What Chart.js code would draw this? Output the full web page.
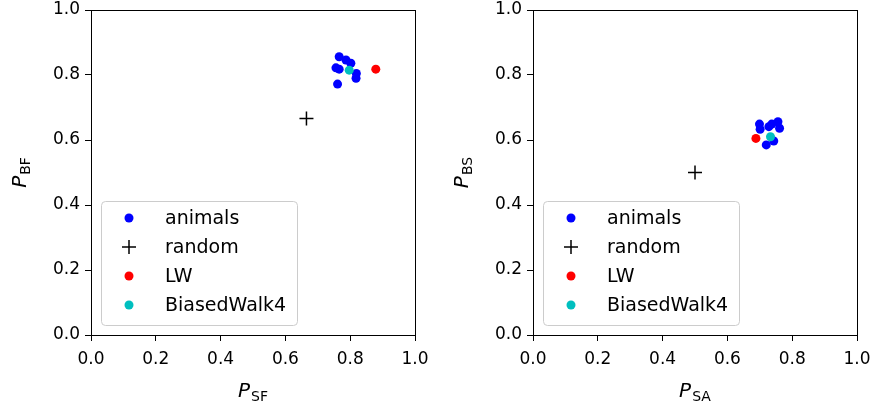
<!DOCTYPE html>
<html>
<head>
<meta charset="utf-8">
<script src="https://cdn.jsdelivr.net/npm/chart.js@4.4.1/dist/chart.umd.min.js"></script>
<style>
  body { margin: 0; background: #fff; }
  .panel { position: absolute; top: 0; width: 437px; height: 410px; }
</style>
</head>
<body>
<div class="panel" style="left:0"><canvas id="chartLeft"></canvas></div>
<div class="panel" style="left:437px"><canvas id="chartRight"></canvas></div>
<script>
// tick values shared by both panels
const tickValues = [0, 0.2, 0.4, 0.6, 0.8, 1.0];
const seriesNames = ["animals", "random", "LW", "BiasedWalk4"];

// left panel: P_SF vs P_BF
const sfAnimals = [0.766, 0.787, 0.802, 0.756, 0.766, 0.819, 0.818, 0.761];
const bfAnimals = [0.856, 0.846, 0.836, 0.822, 0.818, 0.805, 0.790, 0.772];
const sfRandom = [0.665], bfRandom = [0.666];
const sfLW = [0.879], bfLW = [0.818];
const sfBiased = [0.797], bfBiased = [0.815];

// right panel: P_SA vs P_BS
const saAnimals = [0.699, 0.701, 0.728, 0.737, 0.756, 0.761, 0.743, 0.720];
const bsAnimals = [0.649, 0.633, 0.641, 0.649, 0.656, 0.636, 0.597, 0.585];
const saRandom = [0.5], bsRandom = [0.5];
const saLW = [0.688], bsLW = [0.605];
const saBiased = [0.733], bsBiased = [0.610];

const FONT = "'DejaVu Sans', sans-serif";

function pts(xs, ys) {
  return xs.map((x, i) => ({ x: x, y: ys[i] }));
}

function makeDatasets(a, r, lw, b) {
  return [
    { label: seriesNames[0], data: a, backgroundColor: "#0000ff", pointRadius: 4.5, pointBorderWidth: 0, order: 4 },
    { label: seriesNames[1], data: r, pointStyle: "cross", borderColor: "#000", backgroundColor: "#000",
      pointRadius: 7, pointBorderWidth: 1.5, order: 3 },
    { label: seriesNames[2], data: lw, backgroundColor: "#ff0000", pointRadius: 4.5, pointBorderWidth: 0, order: 2 },
    { label: seriesNames[3], data: b, backgroundColor: "#00bfbf", pointRadius: 4.5, pointBorderWidth: 0, order: 1 }
  ];
}

// frame, axis titles with subscripts, and the in-axes legend
const decorPlugin = {
  id: "decor",
  afterDraw(chart) {
    const ctx = chart.ctx;
    const a = chart.chartArea;
    const o = chart.options.plugins.decor;
    ctx.save();

    // box round the axes
    ctx.strokeStyle = "#000";
    ctx.lineWidth = 1;
    ctx.strokeRect(Math.round(a.left) + 0.5, Math.round(a.top) + 0.5,
      Math.round(a.right - a.left), Math.round(a.bottom - a.top));

    // P with a subscript
    function label(sub, cx, cy, rot) {
      ctx.save();
      ctx.translate(cx, cy);
      ctx.rotate(rot);
      ctx.fillStyle = "#000";
      ctx.textBaseline = "alphabetic";
      ctx.font = "italic 20px " + FONT;
      const wP = ctx.measureText("P").width;
      ctx.font = "14px " + FONT;
      const wS = ctx.measureText(sub).width;
      const x0 = -(wP + wS + 1) / 2;
      ctx.font = "italic 20px " + FONT;
      ctx.fillText("P", x0, 7);
      ctx.font = "14px " + FONT;
      ctx.fillText(sub, x0 + wP + 1, 11);
      ctx.restore();
    }
    label(o.xSub, (a.left + a.right) / 2, 390, 0);
    label(o.ySub, a.left - 72, (a.top + a.bottom) / 2, -Math.PI / 2);

    // legend box in the lower left corner
    const bx = a.left + 10, by = a.bottom - 134, bw = 196, bh = 124;
    ctx.beginPath();
    ctx.roundRect(bx + 0.5, by + 0.5, bw, bh, 4);
    ctx.fillStyle = "rgba(255,255,255,0.8)";
    ctx.fill();
    ctx.strokeStyle = "#cccccc";
    ctx.stroke();

    const rows = [17, 46, 75, 104];
    chart.data.datasets.forEach((ds, i) => {
      const mx = a.left + 38, my = by + rows[i];
      if (ds.pointStyle === "cross") {
        ctx.strokeStyle = ds.borderColor;
        ctx.lineWidth = 1.5;
        ctx.beginPath();
        ctx.moveTo(mx - 7, my); ctx.lineTo(mx + 7, my);
        ctx.moveTo(mx, my - 7); ctx.lineTo(mx, my + 7);
        ctx.stroke();
      } else {
        ctx.fillStyle = ds.backgroundColor;
        ctx.beginPath();
        ctx.arc(mx, my, 4.5, 0, Math.PI * 2);
        ctx.fill();
      }
      ctx.fillStyle = "#000";
      ctx.font = "19px " + FONT;
      ctx.textBaseline = "middle";
      ctx.fillText(ds.label, a.left + 74, my + 1);
    });
    ctx.restore();
  }
};

function axis(fit, pad) {
  return {
    type: "linear",
    min: 0,
    max: 1,
    afterBuildTicks: s => { s.ticks = tickValues.map(v => ({ value: v })); },
    afterFit: s => {
      fit(s);
      // keep label overhang from shrinking the plot area
      s.paddingTop = 0; s.paddingBottom = 0; s.paddingLeft = 0; s.paddingRight = 0;
    },
    ticks: {
      color: "#000",
      font: { family: FONT, size: 17 },
      padding: pad,
      callback: v => Number(v).toFixed(1)
    },
    grid: { drawOnChartArea: false, drawTicks: true, tickLength: 6, tickColor: "#000", tickWidth: 1 },
    border: { color: "#000", width: 1 }
  };
}

function makeChart(id, datasets, leftW, rightPad, xSub, ySub) {
  new Chart(document.getElementById(id), {
    type: "scatter",
    data: { datasets: datasets },
    options: {
      responsive: true,
      maintainAspectRatio: false,
      animation: false,
      layout: { padding: { top: 10, right: rightPad, bottom: 0, left: 0 } },
      plugins: {
        legend: { display: false },
        tooltip: { enabled: false },
        decor: { xSub: xSub, ySub: ySub }
      },
      scales: {
        x: axis(s => { s.height = 75; }, 8),
        y: axis(s => { s.width = leftW; }, 5)
      }
    },
    plugins: [decorPlugin]
  });
}

makeChart("chartLeft",
  makeDatasets(pts(sfAnimals, bfAnimals), pts(sfRandom, bfRandom), pts(sfLW, bfLW), pts(sfBiased, bfBiased)),
  91, 22, "SF", "BF");
makeChart("chartRight",
  makeDatasets(pts(saAnimals, bsAnimals), pts(saRandom, bsRandom), pts(saLW, bsLW), pts(saBiased, bsBiased)),
  96, 17, "SA", "BS");
</script>
</body>
</html>
